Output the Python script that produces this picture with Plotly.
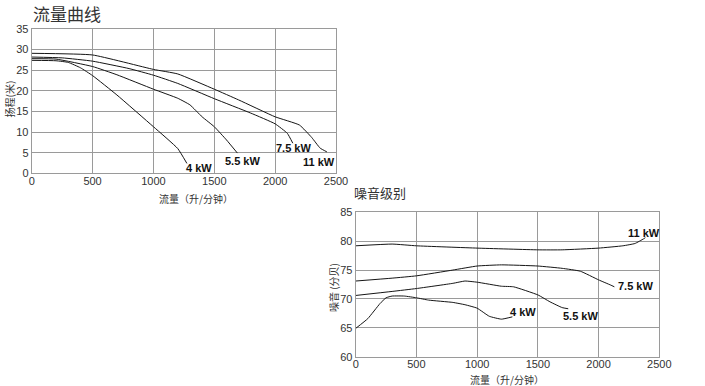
import plotly.graph_objects as go

# ---- Head curves (流量曲线) ----
series_names = ["4 kW", "5.5 kW", "7.5 kW", "11 kW"]

head_flow_4kw = [0, 200, 300, 400, 500, 700, 1000, 1200, 1275]
head_4kw = [27.4, 27.3, 26.9, 25.6, 23.7, 19.0, 11.3, 6.0, 2.4]
head_flow_55kw = [0, 200, 500, 700, 1000, 1200, 1300, 1400, 1500, 1600, 1690]
head_55kw = [27.8, 27.7, 25.9, 23.9, 20.4, 18.2, 16.6, 13.7, 11.3, 8.1, 4.9]
head_flow_75kw = [0, 250, 500, 800, 1000, 1200, 1500, 1800, 2000, 2100, 2145]
head_75kw = [28.2, 28.0, 27.2, 25.4, 23.8, 21.8, 18.1, 14.6, 12.0, 9.7, 7.3]
head_flow_11kw = [0, 500, 1000, 1200, 1500, 1700, 2000, 2200, 2300, 2370, 2425]
head_11kw = [29.1, 28.7, 25.2, 24.1, 20.4, 17.8, 13.7, 11.7, 8.7, 6.1, 5.2]

# ---- Noise curves (噪音级别) ----
noise_flow_4kw = [0, 100, 200, 250, 300, 400, 500, 600, 800, 900, 1000, 1100, 1200, 1290]
noise_4kw = [64.9, 66.6, 69.2, 70.2, 70.5, 70.5, 70.2, 69.8, 69.4, 69.0, 68.4, 67.0, 66.5, 66.9]
noise_flow_55kw = [0, 300, 500, 800, 900, 1000, 1200, 1300, 1500, 1600, 1700, 1750]
noise_55kw = [70.6, 71.3, 71.8, 72.7, 73.1, 72.9, 72.2, 72.1, 70.7, 69.5, 68.5, 68.3]
noise_flow_75kw = [0, 300, 500, 800, 1000, 1200, 1500, 1700, 1850, 2000, 2100, 2130]
noise_75kw = [73.1, 73.6, 74.0, 75.0, 75.7, 75.9, 75.7, 75.3, 74.8, 73.3, 72.4, 72.1]
noise_flow_11kw = [0, 300, 500, 1000, 1500, 1700, 2000, 2200, 2300, 2370, 2385]
noise_11kw = [79.2, 79.5, 79.2, 78.8, 78.5, 78.5, 78.8, 79.2, 79.6, 80.4, 80.6]

x_ticks = [0, 500, 1000, 1500, 2000, 2500]
head_ticks = [0, 5, 10, 15, 20, 25, 30, 35]
noise_ticks = [60, 65, 70, 75, 80, 85]

CJK = "Noto Sans CJK SC"
LAT = "Liberation Sans, Arial, sans-serif"
LINE = dict(color="#151515", width=1.0, shape="spline", smoothing=0.4)

fig = go.Figure()
head_sets = [(head_flow_4kw, head_4kw), (head_flow_55kw, head_55kw),
             (head_flow_75kw, head_75kw), (head_flow_11kw, head_11kw)]
noise_sets = [(noise_flow_4kw, noise_4kw), (noise_flow_55kw, noise_55kw),
              (noise_flow_75kw, noise_75kw), (noise_flow_11kw, noise_11kw)]
for name, (x, y) in zip(series_names, head_sets):
    fig.add_trace(go.Scatter(x=x, y=y, mode="lines", line=LINE, name=name,
                             xaxis="x", yaxis="y", showlegend=False))
for name, (x, y) in zip(series_names, noise_sets):
    fig.add_trace(go.Scatter(x=x, y=y, mode="lines", line=LINE, name=name,
                             xaxis="x2", yaxis="y2", showlegend=False))

W, H = 705, 386
def px(v): return v / W
def py(v): return 1 - v / H

axis_common = dict(showgrid=True, gridcolor="#9a9a9a", gridwidth=1,
                   showline=True, linecolor="#9a9a9a", linewidth=1, mirror=True,
                   zeroline=False, ticks="", automargin=False,
                   tickfont=dict(family=LAT, size=11, color="#333333"),
                   fixedrange=True)

fig.update_layout(
    width=W, height=H, autosize=False,
    margin=dict(l=0, r=0, t=0, b=0),
    paper_bgcolor="white", plot_bgcolor="white",
    xaxis=dict(domain=[px(31.7), px(336)], range=[0, 2500], tickvals=x_ticks,
               anchor="y", ticklabelstandoff=-3, **axis_common),
    yaxis=dict(domain=[py(173.3), py(29)], range=[0, 35], tickvals=head_ticks,
               anchor="x", **axis_common),
    xaxis2=dict(domain=[px(355.7), px(659.3)], range=[0, 2500], tickvals=x_ticks,
                anchor="y2", ticklabelstandoff=-3, **axis_common),
    yaxis2=dict(domain=[py(356.7), py(212.3)], range=[60, 85], tickvals=noise_ticks,
                anchor="x2", **axis_common),
)

lab_font = dict(family=LAT, size=11, color="#111111")
labels1 = [("4 kW", 1375, 1.3), ("5.5 kW", 1728, 3.0), ("7.5 kW", 2150, 6.1), ("11 kW", 2360, 2.8)]
for t, x, y in labels1:
    fig.add_annotation(x=x, y=y, xref="x", yref="y", text="<b>%s</b>" % t,
                       showarrow=False, xanchor="center", yanchor="middle", font=lab_font)
labels2 = [("4 kW", 1375, 67.8), ("5.5 kW", 1847, 67.1), ("7.5 kW", 2300, 72.2), ("11 kW", 2377, 81.5)]
for t, x, y in labels2:
    fig.add_annotation(x=x, y=y, xref="x2", yref="y2", text="<b>%s</b>" % t,
                       showarrow=False, xanchor="center", yanchor="middle", font=lab_font)

# titles
fig.add_annotation(x=px(31), y=py(13), xref="paper", yref="paper", text="流量曲线",
                   showarrow=False, xanchor="left", yanchor="middle",
                   font=dict(family=CJK, size=17, color="#333333"))
fig.add_annotation(x=px(352), y=py(192), xref="paper", yref="paper", text="噪音级别",
                   showarrow=False, xanchor="left", yanchor="middle",
                   font=dict(family=CJK, size=13, color="#333333"))
# axis titles
fig.add_annotation(x=px(196), y=py(198), xref="paper", yref="paper", text="流量（升/分钟）",
                   showarrow=False, xanchor="center", yanchor="middle", borderpad=0,
                   font=dict(family=CJK, size=10, color="#333333"))
fig.add_annotation(x=px(507), y=py(379), xref="paper", yref="paper", text="流量（升/分钟）",
                   showarrow=False, xanchor="center", yanchor="middle", borderpad=0,
                   font=dict(family=CJK, size=10, color="#333333"))
fig.add_annotation(x=px(8.5), y=py(99), xref="paper", yref="paper", text="扬程(米)",
                   showarrow=False, textangle=-90, xanchor="center", yanchor="middle",
                   font=dict(family=CJK, size=10, color="#333333"))
fig.add_annotation(x=px(333), y=py(288), xref="paper", yref="paper", text="噪音 (分贝)",
                   showarrow=False, textangle=-90, xanchor="center", yanchor="middle",
                   font=dict(family=CJK, size=10, color="#333333"))

fig.write_html("out.html", config={"displayModeBar": False},
               post_script="document.body.style.margin='0';")
